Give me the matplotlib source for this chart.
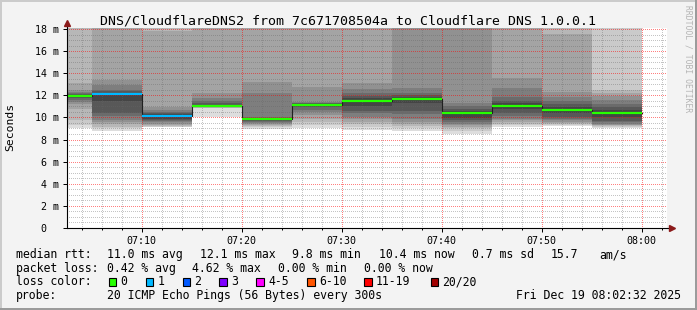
import matplotlib
matplotlib.use('Agg')
import matplotlib.pyplot as plt
import numpy as np
from matplotlib.patches import Rectangle

# ---------------- data ----------------
# segment start times in minutes after 07:00 (last ends at 08:00)
seg_start_min = [2.533, 5, 10, 15, 20, 25, 30, 35, 40, 45, 50, 55]
seg_end_min = 60
# 20 sorted ping rtts (ms) per 5-minute step
pings = [
    [9.0, 9.3, 9.8, 10.8, 11.2, 11.4, 11.6, 11.8, 11.9, 11.95, 12.0, 12.05, 12.1, 12.2, 12.3, 12.5, 13.15, 19.0, 20.0, 22.0],
    [8.8, 9.0, 9.15, 9.4, 9.55, 9.8, 10.1, 10.4, 11.5, 12.05, 12.15, 12.25, 12.35, 12.5, 12.95, 13.4, 19.0, 20.0, 21.0, 23.0],
    [9.1, 9.15, 9.25, 9.35, 9.45, 9.55, 9.65, 9.78, 9.9, 10.1, 10.2, 10.3, 10.4, 10.5, 10.68, 10.98, 17.86, 19.0, 20.0, 22.0],
    [10.0, 10.85, 10.88, 10.9, 10.92, 10.94, 10.96, 10.98, 10.99, 11.0, 11.05, 11.15, 11.3, 11.5, 11.8, 12.19, 19.0, 20.0, 21.0, 23.0],
    [8.95, 9.1, 9.2, 9.3, 9.4, 9.5, 9.6, 9.68, 9.74, 9.79, 9.85, 9.9, 9.95, 10.0, 12.19, 13.24, 19.0, 20.0, 21.0, 23.0],
    [9.0, 9.3, 9.6, 9.9, 10.2, 10.5, 10.7, 10.9, 11.0, 11.1, 11.15, 11.2, 11.3, 11.35, 11.43, 12.79, 19.0, 20.0, 21.0, 23.0],
    [8.9, 9.15, 9.45, 9.62, 9.9, 10.07, 10.4, 10.6, 11.0, 11.45, 11.6, 11.75, 11.97, 12.19, 12.55, 13.09, 19.0, 20.0, 21.0, 23.0],
    [8.8, 9.0, 9.2, 9.4, 9.6, 9.84, 10.3, 10.6, 11.3, 11.65, 11.75, 11.85, 12.0, 12.2, 12.64, 19.0, 19.5, 20.0, 21.0, 23.0],
    [8.5, 8.75, 9.0, 9.15, 9.3, 9.45, 9.6, 9.8, 9.92, 10.35, 10.45, 10.6, 10.8, 11.0, 11.28, 19.0, 19.5, 20.0, 21.0, 23.0],
    [9.15, 9.3, 9.45, 9.6, 9.75, 9.9, 10.1, 10.38, 10.8, 11.05, 11.15, 11.3, 11.5, 11.85, 12.64, 13.6, 19.0, 20.0, 21.0, 23.0],
    [9.2, 9.3, 9.4, 9.5, 9.6, 9.75, 9.9, 10.07, 10.4, 10.65, 10.75, 10.95, 11.2, 11.5, 11.88, 12.34, 17.56, 19.0, 21.0, 23.0],
    [9.08, 9.15, 9.2, 9.3, 9.35, 9.45, 9.55, 9.7, 10.0, 10.4, 10.45, 10.65, 10.9, 11.2, 11.58, 11.9, 12.2, 12.49, 19.0, 21.0],
]
median_rtt = [11.95, 12.1, 10.15, 11.05, 9.82, 11.15, 11.5, 11.7, 10.4, 11.07, 10.7, 10.42]
loss_count = [0, 1, 1, 0, 0, 0, 0, 0, 0, 0, 0, 0]

loss_labels = ['0', '1', '2', '3', '4-5', '6-10', '11-19', '20/20']
loss_colors = ['#26ff00', '#00b8ff', '#0059ff', '#7e00ff', '#ff00ff', '#ff5500', '#ff0000', '#a10000']

x_tick_min = [10, 20, 30, 40, 50, 60]
x_tick_labels = ['07:10', '07:20', '07:30', '07:40', '07:50', '08:00']
y_ticks = [0, 2, 4, 6, 8, 10, 12, 14, 16, 18]
y_tick_labels = ['0  ', '2 m', '4 m', '6 m', '8 m', '10 m', '12 m', '14 m', '16 m', '18 m']

title = 'DNS/CloudflareDNS2 from 7c671708504a to Cloudflare DNS 1.0.0.1'
rtt_row = [('median rtt:', 16), ('11.0 ms avg', 107), ('12.1 ms max', 200.5), ('9.8 ms min', 292.5),
           ('10.4 ms now', 379), ('0.7 ms sd', 471.5), ('15.7', 550.5), ('am/s', 599.5)]
loss_row = [('packet loss:', 16), ('0.42 % avg', 107), ('4.62 % max', 192.5), ('0.00 % min', 278.5),
            ('0.00 % now', 364)]
probe_label = 'probe:'
probe_text = '20 ICMP Echo Pings (56 Bytes) every 300s'
date_text = 'Fri Dec 19 08:02:32 2025'

# ---------------- figure ----------------
W, H = 697, 310
BG = '#f3f3f3'
fig = plt.figure(figsize=(W / 100, H / 100), dpi=100, facecolor=BG)
MONO = 'DejaVu Sans Mono'

def fx(px):
    return px / W

def fy(py):
    return 1 - py / H

# frame shading
fig.patches.append(Rectangle((0, 0), fx(2), 1, transform=fig.transFigure, color='#cbcbcb', lw=0))
fig.patches.append(Rectangle((0, fy(2)), 1, 2 / H, transform=fig.transFigure, color='#cbcbcb', lw=0))
fig.patches.append(Rectangle((fx(W - 2), 0), fx(2), 1, transform=fig.transFigure, color='#9b9b9b', lw=0))
fig.patches.append(Rectangle((0, 0), 1, 2 / H, transform=fig.transFigure, color='#9b9b9b', lw=0))

ax = fig.add_axes([fx(67), fy(228), 600 / W, 200 / H])
ax.set_facecolor('white')
x0 = seg_start_min[0]
ax.set_xlim(x0, x0 + 60)
ax.set_ylim(0, 18.09)

edges = np.array(seg_start_min + [seg_end_min], dtype=float)
P = np.array(pings)
n = P.shape[1]
half = n / 2
for ibot in range(1, n // 2 + 1):
    itop = n + 1 - ibot
    g = int(190 / half * (half - ibot)) + 50
    col = '#%02x%02x%02x' % (g, g, g)
    lo = np.append(P[:, ibot - 1], P[-1, ibot - 1])
    hi = np.append(P[:, itop - 1], P[-1, itop - 1])
    ax.fill_between(edges, lo, hi, step='post', color=col, lw=0, zorder=1)

# grid
ax.set_xticks(x_tick_min)
ax.set_xticklabels(x_tick_labels)
ax.set_xticks(np.arange(4, 63, 2), minor=True)
ax.set_yticks(y_ticks)
ax.set_yticklabels(y_tick_labels)
ax.set_yticks(np.arange(0, 18.1, 0.5), minor=True)
dot = (0.5, (1, 1))
ax.grid(which='minor', color=(0.4, 0.4, 0.4), alpha=0.38, linestyle=dot, lw=0.72, snap=True, zorder=2)
ax.grid(which='major', color=(1, 0, 0), alpha=0.5, linestyle=dot, lw=0.72, snap=True, zorder=2)
ax.set_axisbelow(False)

# median line
med_ext = np.append(median_rtt, median_rtt[-1])
ax.step(edges, med_ext, where='post', color='#202020', lw=0.8, zorder=4)
for i, m in enumerate(median_rtt):
    ax.hlines(m, edges[i], edges[i + 1], colors=loss_colors[loss_count[i]], lw=1.6, zorder=5)

for s in ax.spines.values():
    s.set_visible(False)
ax.plot([0, 1.008], [0, 0], transform=ax.transAxes, color='black', lw=0.8, clip_on=False, zorder=6)
ax.plot([0, 0], [0, 1.02], transform=ax.transAxes, color='black', lw=0.8, clip_on=False, zorder=6)
ax.plot([1.008], [0], marker='>', ms=4, color='#8b1a1a', transform=ax.transAxes, clip_on=False, zorder=7)
ax.plot([0], [1.025], marker='^', ms=4, color='#8b1a1a', transform=ax.transAxes, clip_on=False, zorder=7)

ax.tick_params(axis='both', which='major', length=3, width=0.72, direction='out', color='black',
               labelsize=7.2, labelfontfamily=MONO, pad=2.5)
ax.tick_params(axis='x', which='minor', length=1.5, width=0.72, direction='out', color='black')
ax.tick_params(axis='y', which='minor', length=0)

# texts
fig.text(fx(348), fy(24), title, ha='center', va='baseline', family=MONO, fontsize=9.5)
fig.text(fx(10), fy(127), 'Seconds', rotation=90, ha='center', va='center', family=MONO, fontsize=8.2)
fig.text(fx(688), fy(59), 'RRDTOOL / TOBI OETIKER', rotation=270, ha='center', va='center',
         family=MONO, fontsize=5.8, color='#b4b4b4')

FS = 8.3
base = [258, 271.7, 285.4, 299.1]
for t, x in rtt_row:
    fig.text(fx(x), fy(base[0]), t, ha='left', va='baseline', family=MONO, fontsize=FS)
for t, x in loss_row:
    fig.text(fx(x), fy(base[1]), t, ha='left', va='baseline', family=MONO, fontsize=FS)
fig.text(fx(16), fy(base[2]), 'loss color:', ha='left', va='baseline', family=MONO, fontsize=FS)
sq_x = [108.5, 145.5, 182.5, 219, 256, 307, 364, 430.5]
for lab, col, sx in zip(loss_labels, loss_colors, sq_x):
    fig.patches.append(Rectangle((fx(sx), fy(286.3)), 7.5 / W, 8.3 / H, transform=fig.transFigure,
                                 facecolor=col, edgecolor='black', lw=0.8))
    fig.text(fx(sx + 12), fy(base[2]), lab, ha='left', va='baseline', family=MONO, fontsize=FS)
fig.text(fx(16), fy(base[3]), probe_label, ha='left', va='baseline', family=MONO, fontsize=FS)
fig.text(fx(107), fy(base[3]), probe_text, ha='left', va='baseline', family=MONO, fontsize=FS)
fig.text(fx(681), fy(base[3]), date_text, ha='right', va='baseline', family=MONO, fontsize=FS)

fig.savefig('out.png', dpi=100, facecolor=BG)
